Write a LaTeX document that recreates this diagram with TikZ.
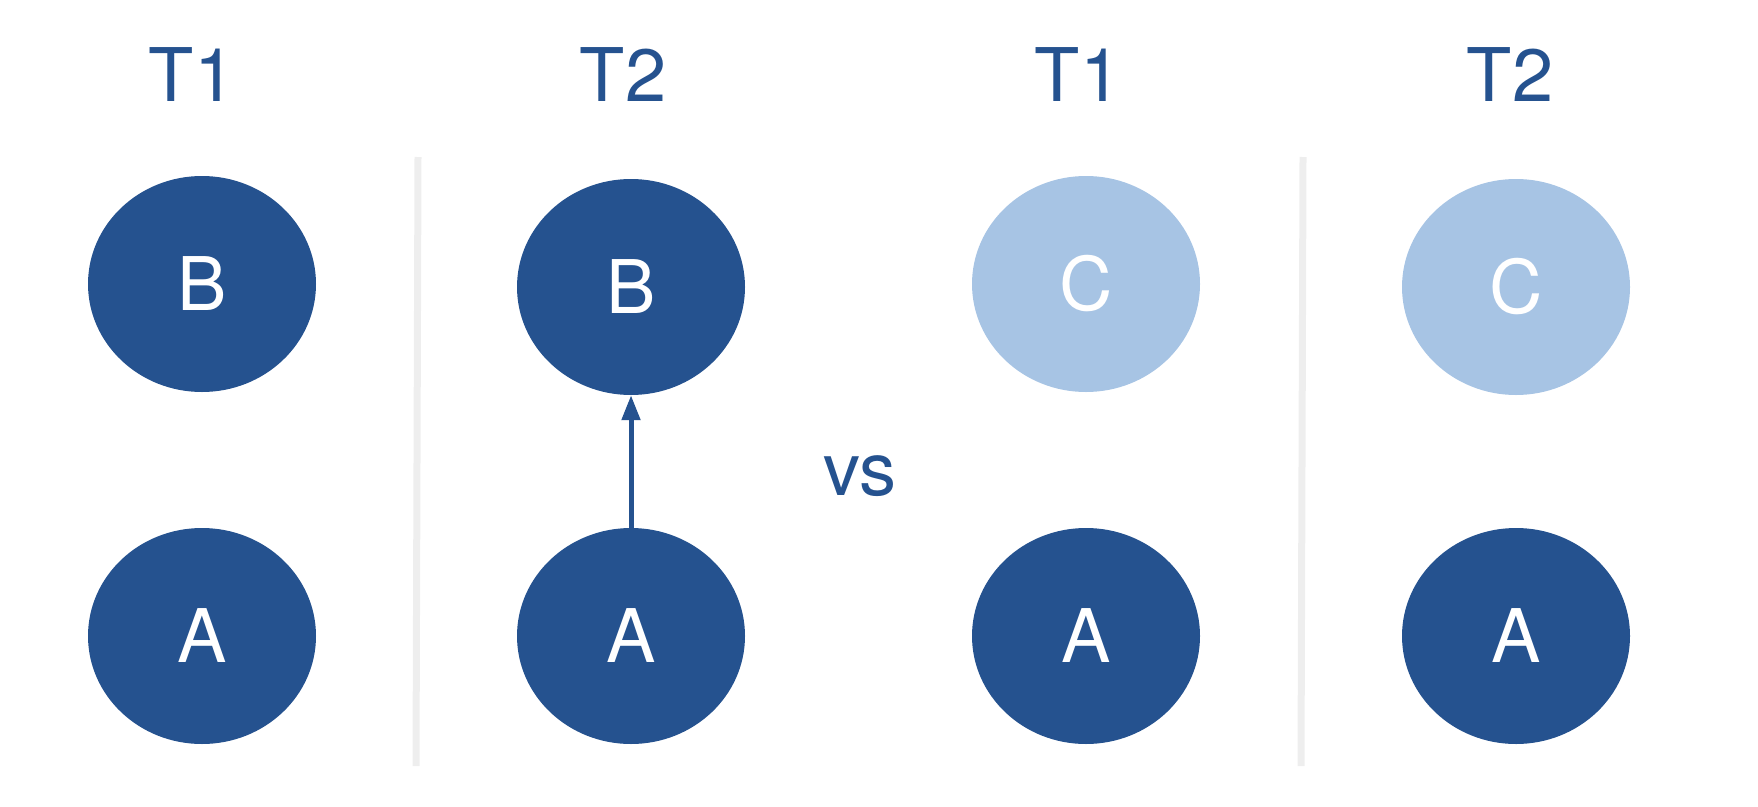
\documentclass[tikz,border=0pt]{standalone}
\usepackage{fontspec}
\setmainfont{TeX Gyre Heros}
\usetikzlibrary{shapes.geometric,arrows.meta}
\definecolor{darkblue}{HTML}{25528F}
\definecolor{lightblue}{HTML}{A7C4E4}
\definecolor{divgray}{HTML}{EEEEEE}
\begin{document}
\begin{tikzpicture}[x=1pt,y=-1pt,
	var/.style={ellipse, fill=darkblue, minimum width=228pt, minimum height=216pt, inner sep=0pt,
		text=white, font=\fontsize{74}{80}\selectfont},
	lightvar/.style={var, fill=lightblue},
	title/.style={text=darkblue, font=\fontsize{74}{80}\selectfont}]
\useasboundingbox (0,0) rectangle (1758,806);

	\node[title] (t1a) at (192,75) {T1};
	\node[title] (t2a) at (623,75) {T2};
	\node[title] (t1b) at (1078,75) {T1};
	\node[title] (t2b) at (1510,75) {T2};

\node[var] (b1) at (202,284) {B};
	\node[var] (a1) at (202,636) {A};
	\node[var] (b2) at (631,287) {B};
	\node[var] (a2) at (631,636) {A};
		\node[lightvar] (c1) at (1086,284) {C};
		\node[var] (a3) at (1086,636) {A};
	\node[lightvar] (c2) at (1516,287) {C};
	\node[var] (a4) at (1516,636) {A};

\draw[darkblue, line width=5pt, -{Triangle[length=25pt,width=18pt]}] (a2.north) -- (b2.south);

	\node[title] (vs) at (860,476) {vs};

\coordinate (d1t) at (418,157);
	\coordinate (d1b) at (416,766);
	\coordinate (d2t) at (1303,157);
	\coordinate (d2b) at (1301,766);
\draw[divgray, line width=7pt] (d1t) -- (d1b);
	\draw[divgray, line width=7pt] (d2t) -- (d2b);

\end{tikzpicture}
\end{document}
